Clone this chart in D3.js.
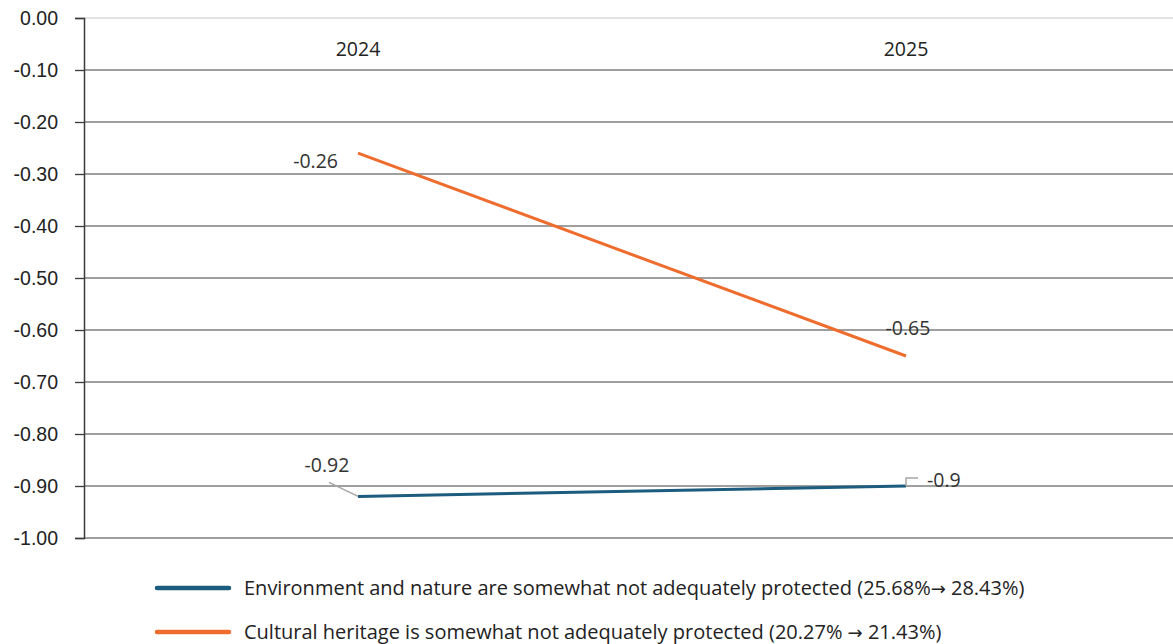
<!DOCTYPE html>
<html>
<head>
<meta charset="utf-8">
<script src="https://cdn.jsdelivr.net/npm/d3@7"></script>
<style>
  html, body { margin: 0; padding: 0; background: #ffffff; }
  svg { display: block; font-family: "Open Sans", "Noto Sans", sans-serif; }
</style>
</head>
<body>
<svg id="chart" width="1173" height="644"></svg>
<script>
// Years compared
const years = ["2024", "2025"];
// Net scores per statement
const environmentValues = [-0.92, -0.9];
const heritageValues = [-0.26, -0.65];
// Series names shown in the legend
const seriesNames = [
  "Environment and nature are somewhat not adequately protected (25.68%\u2192 28.43%)",
  "Cultural heritage is somewhat not adequately protected (20.27% \u2192 21.43%)"
];
// Value axis ticks
const yTicks = [0, -0.1, -0.2, -0.3, -0.4, -0.5, -0.6, -0.7, -0.8, -0.9, -1.0];

const colors = ["#1c5c7e", "#ee6c2d"];

const svg = d3.select("#chart");
const margin = { left: 84, right: 0, top: 18, bottom: 106 };
const W = 1173, H = 644;

const x = d3.scalePoint().domain(years).range([margin.left, 1180]).padding(0.5);
const y = d3.scaleLinear().domain([-1, 0]).range([H - margin.bottom, margin.top]);

// Horizontal gridlines
svg.append("g")
  .selectAll("line")
  .data(yTicks)
  .join("line")
  .attr("x1", margin.left)
  .attr("x2", W)
  .attr("y1", d => y(d))
  .attr("y2", d => y(d))
  .attr("stroke", d => d === 0 ? "#d9d9d9" : "#7f7f7f")
  .attr("stroke-width", 1.3);

// Value axis
const yAxis = d3.axisLeft(y)
  .tickValues(yTicks)
  .tickFormat(d3.format(".2f"))
  .tickSize(9)
  .tickPadding(17);
const gy = svg.append("g")
  .attr("transform", `translate(${margin.left},0)`)
  .call(yAxis);
gy.select(".domain").attr("stroke", "#3a3a3a").attr("stroke-width", 1.5);
gy.selectAll(".tick line").attr("stroke", "#3a3a3a").attr("stroke-width", 1.3);
gy.selectAll(".tick text")
  .attr("fill", "#222")
  .style("font-size", "19.5px")
  .text(d => d3.format(".2f")(d).replace("\u2212", "-"));

// Year labels along the top
svg.append("g")
  .selectAll("text")
  .data(years)
  .join("text")
  .attr("x", d => x(d))
  .attr("y", 56)
  .attr("text-anchor", "middle")
  .attr("fill", "#222")
  .style("font-size", "19.5px")
  .text(d => d);

const line = d3.line().x((d, i) => x(years[i])).y(d => y(d));

// Series lines
[environmentValues, heritageValues].forEach((vals, i) => {
  svg.append("path")
    .datum(vals)
    .attr("d", line)
    .attr("fill", "none")
    .attr("stroke", colors[i])
    .attr("stroke-width", 3);
});

// Data labels
const labelStyle = sel => sel.attr("fill", "#333").style("font-size", "19.5px");

// Cultural heritage labels
svg.append("text")
  .attr("x", x(years[0]) - 20)
  .attr("y", y(heritageValues[0]) + 15)
  .attr("text-anchor", "end")
  .call(labelStyle)
  .text(String(heritageValues[0]));
svg.append("text")
  .attr("x", x(years[1]) + 2)
  .attr("y", y(heritageValues[1]) - 21)
  .attr("text-anchor", "middle")
  .call(labelStyle)
  .text(String(heritageValues[1]));

// Environment labels with leader lines
const e0x = x(years[0]), e0y = y(environmentValues[0]);
svg.append("path")
  .attr("d", `M${e0x},${e0y} L${e0x - 29},${e0y - 14}`)
  .attr("fill", "none")
  .attr("stroke", "#a6a6a6")
  .attr("stroke-width", 1.5);
svg.append("text")
  .attr("x", e0x - 31)
  .attr("y", e0y - 24)
  .attr("text-anchor", "middle")
  .call(labelStyle)
  .text(String(environmentValues[0]));

const e1x = x(years[1]), e1y = y(environmentValues[1]);
svg.append("path")
  .attr("d", `M${e1x},${e1y} L${e1x},${e1y - 8} L${e1x + 12},${e1y - 8}`)
  .attr("fill", "none")
  .attr("stroke", "#a6a6a6")
  .attr("stroke-width", 1.5);
svg.append("text")
  .attr("x", e1x + 21)
  .attr("y", e1y + 1)
  .call(labelStyle)
  .text(String(environmentValues[1]));

// Legend (arrow glyph set in DejaVu Sans, which carries it at full size)
const legend = svg.append("g");
seriesNames.forEach((name, i) => {
  const ly = 588 + i * 44;
  legend.append("line")
    .attr("x1", 157).attr("x2", 229)
    .attr("y1", ly).attr("y2", ly)
    .attr("stroke", colors[i])
    .attr("stroke-width", 4.5)
    .attr("stroke-linecap", "round");
  const t = legend.append("text")
    .attr("x", 244)
    .attr("y", ly + 7)
    .attr("fill", "#222")
    .style("font-size", "20px");
  name.split(/(\u2192)/).forEach(part => {
    const ts = t.append("tspan").text(part);
    if (part === "\u2192") ts.style("font-family", "'DejaVu Sans', sans-serif").style("font-size", "18px");
  });
});
</script>
</body>
</html>
